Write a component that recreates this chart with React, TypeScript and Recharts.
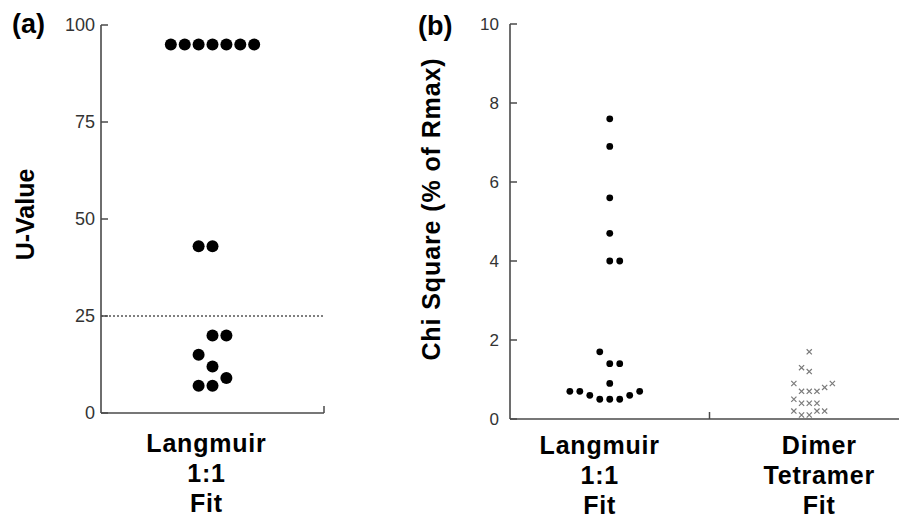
import React from "react"
import { ScatterChart, Scatter, XAxis, YAxis, ReferenceLine } from "recharts"

// (a) U-values of the Langmuir 1:1 fits, with the swarm column of each dot
const uValues = [95, 95, 95, 95, 95, 95, 95, 43, 43, 20, 20, 15, 12, 9, 7, 7]
const uColumns = [-3, -2, -1, 0, 1, 2, 3, -1, 0, 0, 1, -1, 0, 1, -1, 0]
const uTicks = [0, 25, 50, 75, 100]
const uThreshold = 25

// (b) chi square (% of Rmax) for both models
const chiLangmuir = [7.6, 6.9, 5.6, 4.7, 4.0, 4.0, 1.7, 1.4, 1.4, 0.9, 0.7, 0.7, 0.6, 0.5, 0.5, 0.5, 0.6, 0.7]
const chiLangmuirColumns = [0, 0, 0, 0, 0, 1, -1, 0, 1, 0, -4, -3, -2, -1, 0, 1, 2, 3]
const chiDimer = [1.7, 1.3, 1.2, 0.9, 0.7, 0.7, 0.7, 0.8, 0.9, 0.5, 0.4, 0.4, 0.4, 0.2, 0.1, 0.1, 0.2, 0.2]
const chiDimerColumns = [0, -1, 0, -2, -1, 0, 1, 2, 3, -2, -1, 0, 1, -2, -1, 0, 1, 2]
const chiTicks = [0, 2, 4, 6, 8, 10]

const fitLabelsA = [["Langmuir", "1:1", "Fit"]]
const fitLabelsB = [
  ["Langmuir", "1:1", "Fit"],
  ["Dimer", "Tetramer", "Fit"],
]

const FONT = '"Liberation Sans", Arial, Helvetica, sans-serif'
const AXIS = "#4a4a4a"

const toPoints = (values: number[], columns: number[], center: number, spread: number) =>
  values.map((y, i) => ({ x: center + columns[i] * spread, y }))

function InwardYTick(props: any) {
  const { x, y, payload, gap, fontSize } = props
  return (
    <g>
      <line x1={x} x2={x + 7} y1={y} y2={y} stroke={AXIS} strokeWidth={1.5} />
      <text x={x - gap} y={y} dy="0.36em" textAnchor="end" fontSize={fontSize} fill="#333" fontFamily={FONT}>
        {payload.value}
      </text>
    </g>
  )
}

function FitTick(props: any) {
  const { x, y, payload, labels, centers, shifts, firstDy } = props
  const idx = centers.indexOf(payload.value)
  if (idx < 0) {
    return <line x1={x} x2={x} y1={y} y2={y - 7} stroke={AXIS} strokeWidth={1.5} />
  }
  const tx = x + shifts[idx]
  return (
    <text
      x={tx}
      y={y}
      textAnchor="middle"
      fontSize={25}
      fontWeight="bold"
      letterSpacing={0.8}
      fill="#000"
      fontFamily={FONT}
    >
      {labels[idx].map((line: string, j: number) => (
        <tspan key={j} x={tx} dy={j === 0 ? firstDy : 30}>
          {line}
        </tspan>
      ))}
    </text>
  )
}

function AxisTitle(props: any) {
  const { viewBox, text, back, shift, spacing = 0 } = props
  if (!viewBox) return null
  const ax = viewBox.x + viewBox.width - back
  const cy = viewBox.y + viewBox.height / 2 + shift
  return (
    <text
      x={ax}
      y={cy}
      transform={`rotate(-90 ${ax} ${cy})`}
      textAnchor="middle"
      fontSize={25}
      fontWeight="bold"
      letterSpacing={spacing}
      fill="#000"
      fontFamily={FONT}
    >
      {text}
    </text>
  )
}

const bigDot = (p: any) => <circle cx={p.cx} cy={p.cy} r={6} fill="#000" />
const smallDot = (p: any) => <circle cx={p.cx} cy={p.cy} r={3.4} fill="#000" />
const cross = (p: any) => (
  <path
    d={`M${p.cx - 2.6},${p.cy - 2.6}L${p.cx + 2.6},${p.cy + 2.6}M${p.cx - 2.6},${p.cy + 2.6}L${p.cx + 2.6},${p.cy - 2.6}`}
    stroke="#7a7a7a"
    strokeWidth={1.2}
    fill="none"
  />
)

export default function App() {
  const uPoints = toPoints(uValues, uColumns, 0.5, 0.0623)
  const langmuirPoints = toPoints(chiLangmuir, chiLangmuirColumns, 0.5, 0.05)
  const dimerPoints = toPoints(chiDimer, chiDimerColumns, 1.5, 0.0386)

  return (
    <div
      style={{
        position: "absolute",
        left: 0,
        top: 0,
        width: 899,
        height: 519,
        overflow: "hidden",
        background: "#fff",
        fontFamily: FONT,
      }}
    >
      <div style={{ position: "absolute", left: 0, top: 0 }}>
        <ScatterChart width={340} height={519} margin={{ top: 25, right: 16, bottom: 6, left: 41 }}>
          <XAxis
            type="number"
            dataKey="x"
            domain={[0, 1]}
            ticks={[0.5, 1]}
            interval={0}
            height={100}
            tickSize={0}
            tickMargin={0}
            tickLine={false}
            axisLine={{ stroke: AXIS, strokeWidth: 1.6 }}
            tick={(p: any) => <FitTick {...p} labels={fitLabelsA} centers={[0.5]} shifts={[-6]} firstDy={39} />}
          />
          <YAxis
            type="number"
            dataKey="y"
            domain={[0, 100]}
            ticks={uTicks}
            interval={0}
            width={60}
            tickSize={0}
            tickMargin={0}
            tickLine={false}
            axisLine={{ stroke: AXIS, strokeWidth: 1.6 }}
            tick={(p: any) => <InwardYTick {...p} gap={6} fontSize={18} />}
            label={<AxisTitle text="U-Value" back={67.5} shift={-4.5} />}
          />
          <ReferenceLine y={uThreshold} stroke="#555" strokeWidth={1.5} strokeDasharray="2 2" />
          <Scatter data={uPoints} shape={bigDot} isAnimationActive={false} />
        </ScatterChart>
      </div>

      <div style={{ position: "absolute", left: 340, top: 0 }}>
        <ScatterChart width={570} height={519} margin={{ top: 24, right: 1, bottom: 6, left: 110 }}>
          <XAxis
            type="number"
            dataKey="x"
            domain={[0, 2]}
            ticks={[0.5, 1, 1.5]}
            interval={0}
            height={94}
            tickSize={0}
            tickMargin={0}
            tickLine={false}
            axisLine={{ stroke: AXIS, strokeWidth: 1.6 }}
            tick={(p: any) => (
              <FitTick {...p} labels={fitLabelsB} centers={[0.5, 1.5]} shifts={[-10, 10]} firstDy={35} />
            )}
          />
          <YAxis
            type="number"
            dataKey="y"
            domain={[0, 10]}
            ticks={chiTicks}
            interval={0}
            width={60}
            tickSize={0}
            tickMargin={0}
            tickLine={false}
            axisLine={{ stroke: AXIS, strokeWidth: 1.6 }}
            tick={(p: any) => <InwardYTick {...p} gap={11} fontSize={17} />}
            label={<AxisTitle text="Chi Square (% of Rmax)" back={70.5} shift={-12.5} spacing={0.9} />}
          />
          <Scatter data={langmuirPoints} shape={smallDot} isAnimationActive={false} />
          <Scatter data={dimerPoints} shape={cross} isAnimationActive={false} />
        </ScatterChart>
      </div>

      <svg width={899} height={60} style={{ position: "absolute", left: 0, top: 0, pointerEvents: "none" }}>
        <text x={12} y={33} fontSize={27} fontWeight="bold" fill="#000" fontFamily={FONT}>
          (a)
        </text>
        <text x={418} y={35} fontSize={27} fontWeight="bold" fill="#000" fontFamily={FONT}>
          (b)
        </text>
      </svg>
    </div>
  )
}
